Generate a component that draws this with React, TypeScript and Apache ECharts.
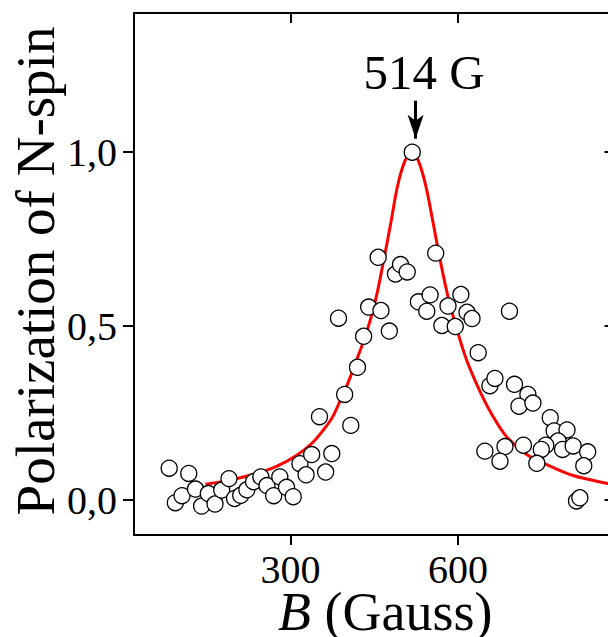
import React, { useEffect, useRef } from 'react';
import * as echarts from 'echarts';

const FONT = "'Liberation Serif', 'Times New Roman', Times, serif";

// Measured points: magnetic field B (Gauss) and N-spin polarization
const fieldB = [83, 118, 94, 106, 130, 141, 153, 165, 177, 190, 200, 211, 222, 234, 247, 258, 270, 281, 293, 305, 317, 328, 338, 363, 374, 352, 408, 397, 420, 386, 431, 440, 462, 477, 457, 488, 497, 509, 518, 560, 529, 550, 544, 582, 605, 616, 625, 571, 595, 692, 636, 657, 666, 701, 725, 709, 734, 765, 772, 795, 779, 757, 749, 787, 806, 832, 825, 648, 684, 675, 717, 741, 812, 818];
const polarization = [0.092, 0.077, -0.007, 0.013, 0.032, -0.017, 0.019, -0.011, 0.029, 0.062, 0.005, 0.014, 0.03, 0.053, 0.067, 0.042, 0.013, 0.067, 0.037, 0.01, 0.105, 0.073, 0.131, 0.081, 0.134, 0.24, 0.215, 0.304, 0.382, 0.523, 0.471, 0.555, 0.545, 0.486, 0.698, 0.65, 0.677, 0.656, 1.0, 0.71, 0.57, 0.59, 0.543, 0.558, 0.591, 0.54, 0.522, 0.502, 0.499, 0.543, 0.424, 0.329, 0.35, 0.333, 0.304, 0.27, 0.279, 0.237, 0.199, 0.202, 0.17, 0.158, 0.146, 0.146, 0.156, 0.139, 0.099, 0.141, 0.154, 0.112, 0.158, 0.106, -0.002, 0.007];

// Fitted curve (red)
const fitB = [148, 190, 240, 275, 310, 338, 358, 375, 390, 405, 420, 436, 453, 467, 480, 492, 505, 517, 529, 542, 555, 568, 582, 598, 616, 640, 661, 687, 722, 758, 806, 868, 880];
const fitP = [0.046, 0.057, 0.077, 0.097, 0.128, 0.163, 0.2, 0.238, 0.29, 0.345, 0.41, 0.48, 0.58, 0.69, 0.8, 0.905, 0.975, 1.0, 0.975, 0.905, 0.8, 0.69, 0.585, 0.49, 0.4, 0.31, 0.245, 0.182, 0.132, 0.103, 0.071, 0.048, 0.045];

// Axis ticks
const xTicks = [300, 600];
const yTicks = [0, 0.5, 1.0];
const yTickLabels = ['0,0', '0,5', '1,0'];

// Annotation
const peakLabel = '514 G';
const labelAt = [539, 1.229];
const arrowFrom = [524, 1.148];
const arrowTo = [524, 1.039];

const X_MIN = 20;
const X_MAX = 880;
const Y_MIN = -0.1;
const Y_MAX = 1.4;

export default function App() {
  const ref = useRef<HTMLDivElement>(null);
  useEffect(() => {
    document.body.style.margin = '0';
    const chart = echarts.init(ref.current!, null, { renderer: 'svg' });
    const axisLine = { show: true, onZero: false, lineStyle: { color: '#000', width: 2 } };
    const tickStyle = { color: '#000', width: 2 };
    const option: any = {
      animation: false,
      backgroundColor: '#fff',
      grid: { left: 134, top: 13, right: -6.5, bottom: 102, containLabel: false, outerBoundsMode: 'none' },
      xAxis: [
        {
          type: 'value', position: 'bottom', min: X_MIN, max: X_MAX,
          axisLine,
          axisTick: { show: true, inside: false, length: 10, lineStyle: tickStyle, customValues: xTicks },
          axisLabel: { show: true, customValues: xTicks, fontSize: 40, lineHeight: 36, fontFamily: FONT, color: '#000', margin: 16 },
          splitLine: { show: false },
          name: '{i|B} (Gauss)', nameLocation: 'middle', nameGap: 53, nameMoveOverlap: false,
          nameTextStyle: {
            fontSize: 54, lineHeight: 48, fontFamily: FONT, color: '#000', padding: [0, 0, 0, 22],
            rich: { i: { fontStyle: 'italic', fontSize: 54, lineHeight: 48, fontFamily: FONT, color: '#000' } },
          },
        },
        {
          type: 'value', position: 'top', min: X_MIN, max: X_MAX,
          axisLine,
          axisTick: { show: true, inside: true, length: 10, lineStyle: tickStyle, customValues: xTicks },
          axisLabel: { show: false },
          splitLine: { show: false },
        },
      ],
      yAxis: [
        {
          type: 'value', position: 'left', min: Y_MIN, max: Y_MAX,
          axisLine,
          axisTick: { show: true, inside: false, length: 11, lineStyle: tickStyle, customValues: yTicks },
          axisLabel: {
            show: true, customValues: yTicks, fontSize: 40, fontFamily: FONT, color: '#000', margin: 17,
            formatter: (v: number) => yTickLabels[yTicks.findIndex((t) => Math.abs(t - v) < 1e-6)] ?? '',
          },
          splitLine: { show: false },
          name: 'Polarization of N-spin', nameLocation: 'middle', nameGap: 71, nameRotate: 90, nameMoveOverlap: false,
          nameTextStyle: { fontSize: 55, fontFamily: FONT, color: '#000', padding: [0, 0, 0, 6] },
        },
        {
          type: 'value', position: 'right', min: Y_MIN, max: Y_MAX,
          axisLine,
          axisTick: { show: true, inside: true, length: 10, lineStyle: tickStyle, customValues: yTicks },
          axisLabel: { show: false },
          splitLine: { show: false },
        },
      ],
      series: [
        {
          type: 'line', xAxisIndex: 0, yAxisIndex: 0, z: 2,
          data: fitB.map((b, i) => [b, fitP[i]]),
          smooth: 0.35, showSymbol: false, symbol: 'none',
          lineStyle: { color: '#ff0000', width: 3 },
          clip: true, silent: true,
        },
        {
          type: 'scatter', xAxisIndex: 0, yAxisIndex: 0, z: 3,
          data: fieldB.map((b, i) => [b, polarization[i]]),
          symbol: 'circle', symbolSize: 16,
          itemStyle: { color: '#fff', borderColor: '#000', borderWidth: 1.3, opacity: 1 },
          markLine: {
            silent: true, symbol: ['none', 'arrow'], symbolSize: [12, 24],
            lineStyle: { color: '#000', width: 3, type: 'solid' },
            label: { show: false },
            data: [[{ coord: arrowFrom }, { coord: arrowTo }]],
          },
          markPoint: {
            silent: true, symbol: 'circle', symbolSize: 1,
            itemStyle: { color: 'rgba(0,0,0,0)' },
            label: { show: true, position: 'inside', formatter: peakLabel, fontSize: 49, fontFamily: FONT, color: '#000' },
            data: [{ coord: labelAt }],
          },
        },
      ],
    };
    chart.setOption(option);
    return () => chart.dispose();
  }, []);
  return <div ref={ref} style={{ width: 608, height: 637 }} />;
}
